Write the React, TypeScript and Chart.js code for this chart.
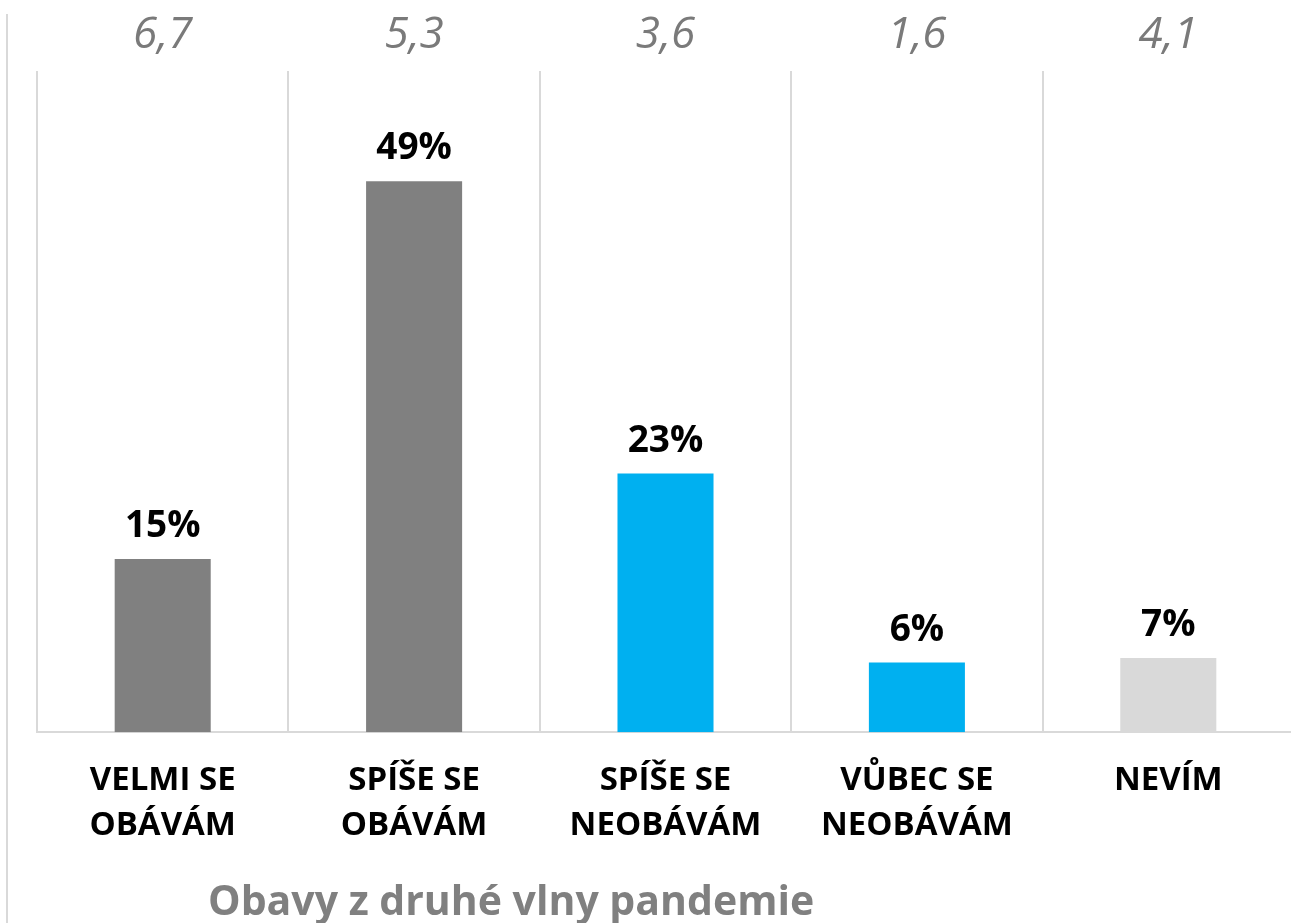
import React, { useEffect, useRef } from "react";
import { Chart, registerables } from "chart.js";

Chart.register(...registerables);

const categories: string[][] = [
  ["VELMI SE", "OBÁVÁM"],
  ["SPÍŠE SE", "OBÁVÁM"],
  ["SPÍŠE SE", "NEOBÁVÁM"],
  ["VŮBEC SE", "NEOBÁVÁM"],
  ["NEVÍM"],
];
const shares = [15.4, 49, 23, 6.2, 6.6];
const topValues = ["6,7", "5,3", "3,6", "1,6", "4,1"];
const barColors = ["#808080", "#808080", "#00b0f0", "#00b0f0", "#d9d9d9"];
const chartTitle = "Obavy z druhé vlny pandemie";

const FONT = "'Open Sans', 'Noto Sans', sans-serif";

const overlay = {
  id: "overlay",
  afterDatasetsDraw(chart: any) {
    const ctx = chart.ctx as CanvasRenderingContext2D;
    const meta = chart.getDatasetMeta(0);
    const xs = chart.scales.x;
    ctx.save();
    ctx.textAlign = "center";
    ctx.textBaseline = "alphabetic";
    ctx.fillStyle = "#000000";
    ctx.font = `bold 37px ${FONT}`;
    meta.data.forEach((bar: any, i: number) => {
      ctx.fillText(Math.round(shares[i]) + "%", bar.x, bar.y - 22);
    });
    ctx.fillStyle = "#7a7a7a";
    ctx.font = `italic 44px ${FONT}`;
    topValues.forEach((t, i) => {
      ctx.fillText(t, xs.getPixelForValue(i), 48);
    });
    ctx.strokeStyle = "#d9d9d9";
    ctx.lineWidth = 2;
    ctx.beginPath();
    ctx.moveTo(7, 14);
    ctx.lineTo(7, 923);
    ctx.stroke();
    ctx.textAlign = "left";
    ctx.fillStyle = "#808080";
    ctx.font = `bold 41px ${FONT}`;
    ctx.fillText(chartTitle, 208, 915);
    ctx.restore();
  },
};

export default function App() {
  const ref = useRef<HTMLCanvasElement | null>(null);
  useEffect(() => {
    if (!ref.current) return;
    const chart = new Chart(ref.current, {
      type: "bar",
      data: {
        labels: categories,
        datasets: [
          {
            data: shares,
            backgroundColor: barColors,
            borderWidth: 0,
            barPercentage: 0.382,
            categoryPercentage: 1,
          },
        ],
      },
      options: {
        responsive: false,
        animation: false,
        devicePixelRatio: 1,
        layout: { padding: { left: 37, right: 6, top: 71, bottom: 49 } },
        plugins: {
          legend: { display: false },
          tooltip: { enabled: false },
          title: { display: false },
        },
        scales: {
          x: {
            grid: {
              display: true,
              color: "#d9d9d9",
              lineWidth: 2,
              drawTicks: false,
              offset: true,
            },
            border: { display: true, color: "#d9d9d9", width: 2 },
            ticks: {
              color: "#000000",
              font: { family: FONT, size: 33, weight: "bold", lineHeight: 1.36 },
              padding: 26,
              maxRotation: 0,
              autoSkip: false,
            },
          },
          y: {
            display: false,
            min: 0,
            max: 58.8,
          },
        },
      },
      plugins: [overlay],
    });
    return () => chart.destroy();
  }, []);
  return (
    <div
      style={{
        position: "absolute",
        left: 0,
        top: 0,
        width: 1291,
        height: 923,
        overflow: "hidden",
        background: "#ffffff",
      }}
    >
      <canvas ref={ref} width={1300} height={923} style={{ display: "block" }} />
    </div>
  );
}
